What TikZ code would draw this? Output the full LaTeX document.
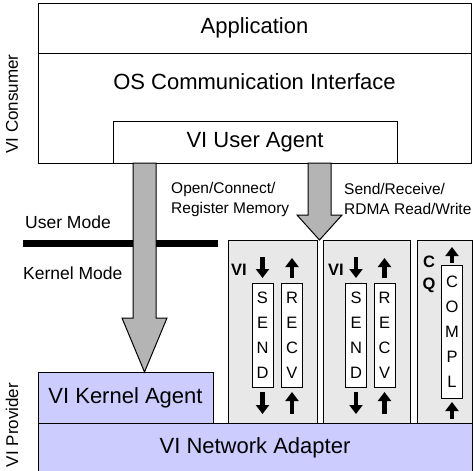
\documentclass[tikz,border=0pt]{standalone}
\usepackage{fontspec}
\setmainfont{Liberation Sans}
\usetikzlibrary{calc,arrows.meta}

\definecolor{lavender}{HTML}{CCCCFF}
\definecolor{vigray}{HTML}{E8E8E8}
\definecolor{arrowgray}{HTML}{B4B4B4}

\tikzset{
  layer/.style={draw, line width=1pt, inner sep=0pt, outer sep=0pt, anchor=north west,
    font=\fontsize{22}{26}\selectfont},
  provider/.style={layer, fill=lavender},
  vibox/.style={draw, line width=1pt, fill=vigray, inner sep=0pt, outer sep=0pt, anchor=north west},
  queue/.style={draw, fill=white, line width=1pt, minimum width=21pt, inner sep=0pt, outer sep=0pt,
    align=center, font=\fontsize{16.5}{25}\selectfont},
  qarrow/.style={line width=4.5pt, -{Triangle[width=13pt,length=9pt]}},
  fatarrow/.style={draw, line width=1pt, fill=arrowgray, line join=miter},
  small/.style={font=\fontsize{15.5}{20}\selectfont, align=left, anchor=west, inner sep=0pt},
  mode/.style={font=\fontsize{17.5}{20}\selectfont, anchor=west, inner sep=0pt},
  side/.style={font=\fontsize{17}{20}\selectfont, rotate=90},
  tag/.style={font=\bfseries\fontsize{16.5}{20}\selectfont, inner sep=0pt}
}

% wide block arrow: #1 start, #2 tip, #3 head length
\newcommand{\fatarrow}[3]{%
  \draw[fatarrow] let \p1=(#1), \p2=(#2) in
    (\x2-11.5pt,\y1) -- (\x2-11.5pt,\y2+#3) -- (\x2-22.5pt,\y2+#3) -- (\x2,\y2)
    -- (\x2+22.5pt,\y2+#3) -- (\x2+11.5pt,\y2+#3) -- (\x2+11.5pt,\y1) -- cycle;}

\begin{document}
\begin{tikzpicture}[x=1pt, y=-1pt]
\useasboundingbox (0,0) rectangle (474,471);

% consumer layers
\node[layer, minimum width=433pt, minimum height=50pt] (app) at (38,3) {Application};
\node[layer, minimum width=433pt, minimum height=110pt] (osci) at (38,53) {};
\node[font=\fontsize{22}{26}\selectfont] (osci-label) at (254.5,82) {OS Communication Interface};
\node[layer, minimum width=284pt, minimum height=42pt] (ua) at (113,121) {VI User Agent};

% provider layers
\foreach \name/\x/\w in {vi1/228/89, vi2/323/87, cq/417/55}
  \node[vibox, minimum width=\w pt, minimum height=183pt] (\name) at (\x,240) {};
\node[provider, minimum width=175pt, minimum height=51pt] (ka) at (38,372) {VI Kernel Agent};
\node[provider, minimum width=434pt, minimum height=49pt] (na) at (38,423) {VI Network Adapter};

% work queues
\foreach \name/\x/\txt in {send1/262.5/{S\\E\\N\\D}, recv1/292/{R\\E\\C\\V},
                          send2/356/{S\\E\\N\\D}, recv2/384.5/{R\\E\\C\\V}}
  \node[queue, minimum height=104pt] (\name) at (\x,335) {\txt};
\node[queue, minimum height=133pt] (compl) at (452,331.5) {C\\O\\M\\P\\L};

\node[tag] (vi1-tag) at (239,270) {VI};
\node[tag] (vi2-tag) at (336,270) {VI};
\node[tag] (cq-c) at (429,262) {C};
\node[tag] (cq-q) at (429,285) {Q};

\foreach \q in {send1,send2} {
  \draw[qarrow] ([yshift=26pt]\q.north) -- ([yshift=5pt]\q.north);
  \draw[qarrow] ([yshift=-5pt]\q.south) -- ([yshift=-27pt]\q.south);
}
\foreach \q in {recv1,recv2} {
  \draw[qarrow] ([yshift=5pt]\q.north) -- ([yshift=25pt]\q.north);
  \draw[qarrow] ([yshift=-27pt]\q.south) -- ([yshift=-5pt]\q.south);
}
\draw[qarrow] ([yshift=2pt]compl.north) -- ([yshift=18pt]compl.north);
\draw[qarrow] ([yshift=-21pt]compl.south) -- ([yshift=-4pt]compl.south);

% user / kernel boundary
\coordinate (mode-l) at (23,243);
\coordinate (mode-r) at (218,243);
\draw[line width=7pt] (mode-l) -- (mode-r);
\node[mode] (user-mode) at (25,222) {User Mode};
\node[mode] (kernel-mode) at (23,273) {Kernel Mode};

% calls into the provider
\coordinate (mgmt-start) at ([xshift=31.5pt]ua.south west);
\coordinate (data-start) at ([xshift=-77.5pt]ua.south east);
\fatarrow{mgmt-start}{mgmt-start |- ka.north}{54pt}
\fatarrow{data-start}{data-start |- vi1.north}{25pt}

\node[small] (mgmt-label) at (171,199) {Open/Connect/\\Register Memory};
\node[small] (data-label) at (344,199) {Send/Receive/\\RDMA Read/Write};

\node[side] (consumer-label) at (12,104) {VI Consumer};
\node[side] (provider-label) at (12,425) {VI Provider};

\end{tikzpicture}
\end{document}
